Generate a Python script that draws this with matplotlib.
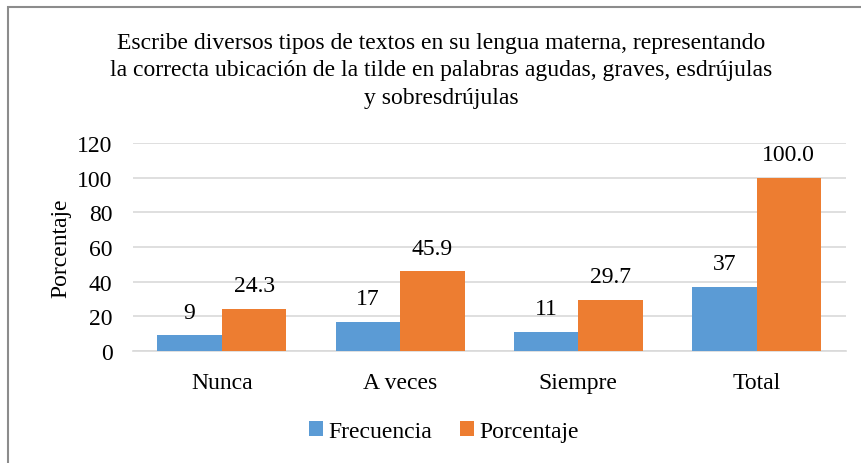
import numpy as np
import matplotlib
matplotlib.use('Agg')
import matplotlib.pyplot as plt
from matplotlib.patches import Rectangle

# data
categories = ['Nunca', 'A veces', 'Siempre', 'Total']
frecuencia = [9, 17, 11, 37]
porcentaje = [24.3, 45.9, 29.7, 100.0]
yticks = [0, 20, 40, 60, 80, 100, 120]

plt.rcParams['font.family'] = ['Liberation Serif', 'DejaVu Serif']

fig = plt.figure(figsize=(8.62, 4.64), dpi=100)
ax = fig.add_axes([0.154, 0.2414, 0.827, 0.4483])

# gray frame around the chart
fig.patches.append(Rectangle((8 / 862, -0.1), 1.2, 1 - 8 / 464 + 0.1,
                             transform=fig.transFigure, fill=False,
                             edgecolor='#8c8c8c', linewidth=1.5))

x = np.arange(len(categories))
w = 0.362
b1 = ax.bar(x - w / 2, frecuencia, w, color='#5B9BD5', label='Frecuencia', zorder=3)
b2 = ax.bar(x + w / 2, porcentaje, w, color='#ED7D31', label='Porcentaje', zorder=3)

ax.bar_label(b1, labels=[str(v) for v in frecuencia], padding=9, fontsize=17)
ax.bar_label(b2, labels=['%.1f' % v for v in porcentaje], padding=9, fontsize=17)

ax.set_xlim(-0.5, 3.5)
ax.set_ylim(0, 120)
ax.set_yticks(yticks)
ax.set_xticks(x)
ax.set_xticklabels(categories, fontsize=17)
ax.tick_params(axis='y', labelsize=17, length=0, pad=14.5)
ax.tick_params(axis='x', length=0, pad=15)
ax.yaxis.grid(True, color='#D9D9D9', linewidth=1.2, zorder=0)
for s in ['top', 'right', 'left']:
    ax.spines[s].set_visible(False)
ax.spines['bottom'].set_color('#D9D9D9')
ax.spines['bottom'].set_linewidth(1.2)

ax.set_ylabel('Porcentaje', fontsize=17, labelpad=4)

fig.text(0.512, 0.928, 'Escribe diversos tipos de textos en su lengua materna, representando\n'
         'la correcta ubicación de la tilde en palabras agudas, graves, esdrújulas\n'
         'y sobresdrújulas', ha='center', va='top', fontsize=17, linespacing=1.38)

fig.legend(loc='center', bbox_to_anchor=(0.515, 0.068), ncol=2, frameon=False,
           fontsize=17, handlelength=0.6, handleheight=0.6, handletextpad=0.2,
           columnspacing=1.2)

fig.savefig('out.png', dpi=100)
